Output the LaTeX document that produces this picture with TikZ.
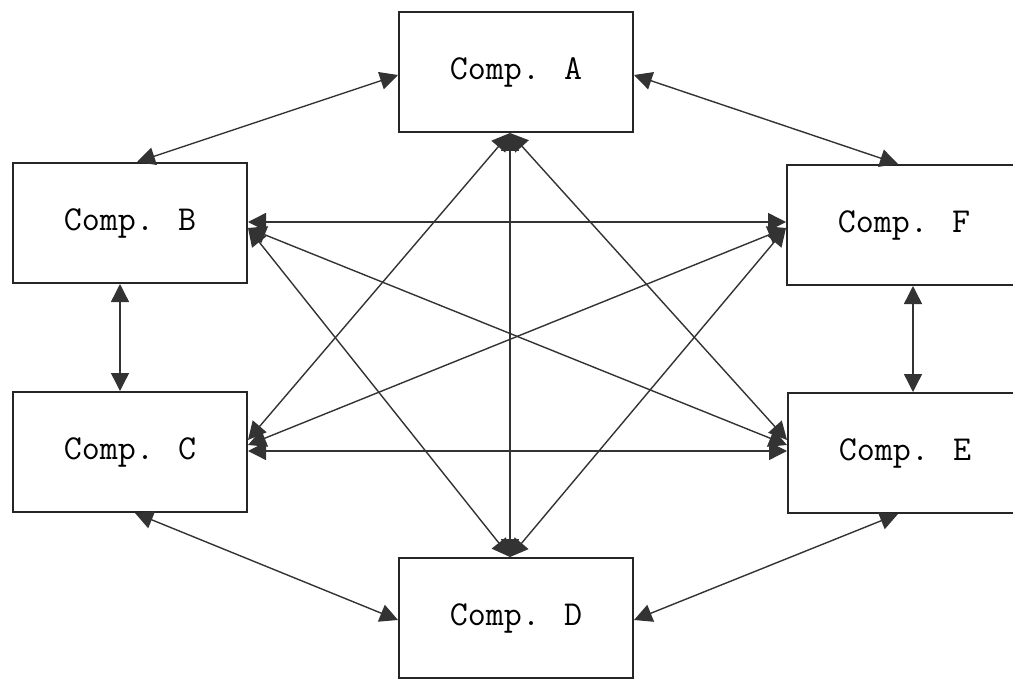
\documentclass[tikz,border=0pt]{standalone}
\usepackage{fontspec}
\usetikzlibrary{arrows.meta,calc}
\begin{document}
\begin{tikzpicture}[x=1pt,y=-1pt,
  comp/.style={draw=black!85,line width=2pt,fill=white,minimum width=234pt,minimum height=120pt,inner sep=0pt,
    font=\ttfamily\fontsize{35}{40}\selectfont},
  link/.style={draw=black!80,line width=1.4pt,{Triangle[length=18pt,width=18pt]}-{Triangle[length=18pt,width=18pt]}}]
\useasboundingbox (0,0) rectangle (1013,682);
\fill[white] (0,0) rectangle (1013,682);
\node[comp] (A) at (516,72) {Comp. A};
\node[comp] (B) at (130,223) {Comp. B};
\node[comp] (C) at (130,452) {Comp. C};
\node[comp] (D) at (516,618) {Comp. D};
\node[comp] (F) at (904,225) {Comp. F};
\node[comp] (E) at (905,453) {Comp. E};
% outer ring
\draw[link] ($(B.north)+(7,0)$) -- ($(A.west)+(0,3)$);
\draw[link] ($(A.east)+(0,3)$) -- ($(F.north)+(-6,0)$);
\draw[link] ($(B.south)+(-10,0)$) -- ($(C.north)+(-10,0)$);
\draw[link] ($(F.south)+(9,0)$) -- ($(E.north)+(8,0)$);
\draw[link] ($(C.south)+(5,0)$) -- ($(D.west)+(0,2)$);
\draw[link] ($(E.south)+(-7,0)$) -- ($(D.east)+(0,2)$);
% inner
\draw[link] ($(A.south)+(-6,0)$) -- ($(D.north)+(-6,0)$);
\draw[link] ($(A.south)+(-6,0)$) -- ($(C.east)+(0,-12)$);
\draw[link] ($(A.south)+(-6,0)$) -- ($(E.west)+(0,-13)$);
\draw[link] ($(D.north)+(-6,0)$) -- ($(B.east)+(0,5)$);
\draw[link] ($(D.north)+(-6,0)$) -- ($(F.west)+(0,3)$);
\draw[link] ($(B.east)+(0,-1)$) -- ($(F.west)+(0,-3)$);
\draw[link] ($(C.east)+(0,-1)$) -- ($(E.west)+(0,-2)$);
\draw[link] ($(B.east)+(0,5)$) -- ($(E.west)+(0,-8)$);
\draw[link] ($(C.east)+(0,-7)$) -- ($(F.west)+(0,3)$);
\end{tikzpicture}
\end{document}
